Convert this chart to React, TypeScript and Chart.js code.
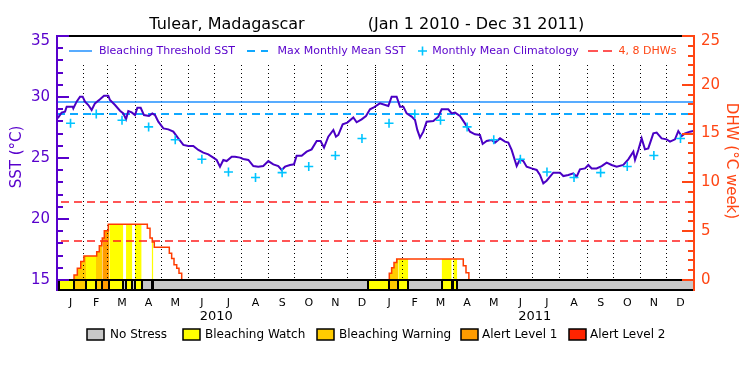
import { useEffect, useRef } from 'react';
import { Chart, registerables } from 'chart.js';

Chart.register(...registerables);

// ---------------- data ----------------
const titleLocation = 'Tulear, Madagascar';
const titlePeriod = '(Jan 1 2010 - Dec 31 2011)';
const monthLabels = ['J', 'F', 'M', 'A', 'M', 'J', 'J', 'A', 'S', 'O', 'N', 'D'];
const monthStarts = [0, 31, 59, 90, 120, 151, 181, 212, 243, 273, 304, 334];
const monthLengths = [31, 28, 31, 30, 31, 30, 31, 31, 30, 31, 30, 31];
const yearLabels = ['2010', '2011'];
const daysPerYear = 365;

const climatology = [27.85, 28.6, 28.1, 27.55, 26.5, 24.9, 23.85, 23.4, 23.8, 24.3, 25.2, 26.6];
const maxMonthlyMean = 28.6;
const bleachingThreshold = 29.6;
const dhwThresholds = [4, 8];

const sstTickLabels = [15, 20, 25, 30, 35];
const dhwTickLabels = [0, 5, 10, 15, 20, 25];
const sstAxisMin = 14.1;
const sstAxisMax = 35;
const dhwAxisMin = -1.13;
const dhwAxisMax = 25;

const sstDays = [0, 1.5, 5.3, 9.2, 11.1, 18, 18.7, 22.5, 26.4, 29.4, 32.1, 35.9, 39.7, 43.5, 49.3, 53.9, 58.8, 60.7, 66.5, 72.2, 76, 79.1, 81.7, 85.6, 89.4, 92.1, 95.9, 99.7, 105.4, 109.2, 112.3, 116.1, 121.9, 127.6, 133.3, 139, 144.8, 150.5, 156.2, 162, 167.7, 173.4, 179.1, 183, 186.8, 190.6, 194.4, 200.2, 204, 209.7, 213.5, 219.3, 225, 230.7, 236.4, 242.2, 247.9, 253.6, 257.5, 261.3, 267, 271.6, 274.6, 280.4, 286.1, 291.8, 297.6, 302.1, 306, 310.9, 316.7, 319.7, 322.4, 327.4, 332.7, 339.6, 343.4, 349.1, 354.1, 358.7, 362.5, 368.2, 370.1, 379.7, 383.5, 389.2, 393.1, 396.9, 400.7, 406.4, 410.3, 412.9, 416, 419.8, 423.6, 431.3, 437, 440.8, 448.4, 452.3, 456.1, 461.8, 467.5, 473.3, 479, 484.7, 487.8, 492.4, 498.1, 501.9, 507.7, 513.4, 517.2, 521, 526.8, 530.6, 534.4, 538.2, 543.9, 549.7, 553.5, 557.3, 561.1, 565, 568.8, 576.4, 580.2, 586, 591.7, 595.5, 599.3, 605.1, 608.9, 612.7, 618.4, 624.2, 629.9, 635.6, 641.4, 649, 654.7, 660.5, 662.4, 666.2, 670, 673.8, 677.6, 683.4, 687.2, 692.9, 698.6, 702.5, 708.2, 712, 715.8, 719.7, 725.4, 729.2];
const sstValues = [28.39, 28.33, 28.72, 28.8, 29.21, 29.21, 29.07, 29.62, 30.03, 30.03, 29.62, 29.34, 28.93, 29.48, 29.81, 30.11, 30.11, 29.75, 29.34, 28.88, 28.66, 28.17, 28.85, 28.74, 28.52, 29.12, 29.12, 28.52, 28.44, 28.66, 28.52, 27.98, 27.43, 27.35, 27.16, 26.61, 26.07, 25.98, 25.98, 25.66, 25.44, 25.3, 25.03, 24.84, 24.29, 24.84, 24.75, 25.11, 25.11, 25.03, 24.92, 24.84, 24.34, 24.29, 24.34, 24.75, 24.48, 24.34, 24.02, 24.29, 24.43, 24.48, 25.19, 25.19, 25.52, 25.71, 26.39, 26.39, 25.85, 26.75, 27.3, 26.75, 26.89, 27.76, 27.9, 28.33, 27.93, 28.17, 28.44, 28.99, 29.12, 29.4, 29.48, 29.26, 30.03, 30.03, 29.21, 29.21, 28.66, 28.39, 28.11, 27.3, 26.67, 27.16, 27.98, 28.03, 28.39, 28.99, 28.99, 28.66, 28.72, 28.44, 27.84, 27.16, 26.94, 26.89, 26.15, 26.39, 26.48, 26.26, 26.61, 26.34, 26.26, 25.66, 24.34, 24.89, 24.75, 24.29, 24.15, 24.02, 23.61, 22.92, 23.14, 23.47, 23.8, 23.8, 23.52, 23.61, 23.74, 23.47, 24.07, 24.15, 24.43, 24.15, 24.15, 24.34, 24.62, 24.43, 24.29, 24.43, 24.89, 25.52, 24.84, 25.66, 26.61, 25.71, 25.79, 27.02, 27.08, 26.61, 26.53, 26.34, 26.53, 27.21, 26.8, 27.02, 27.16, 27.21];

const dhwDays = [19.5, 19.5, 23.3, 27.2, 30.9, 45.5, 48.5, 51.2, 51.9, 54.2, 58.8, 103.5, 106.6, 109.2, 111.5, 128.7, 131.4, 134.1, 137.2, 139.8, 142.9, 143.5, 380.7, 380.8, 383.5, 386.2, 389.3, 465.6, 468.7, 472];
const dhwValues: (number | null)[] = [0, 0.5, 1.2, 1.9, 2.45, 2.9, 3.5, 3.95, 4.3, 5.05, 5.7, 5.3, 4.3, 3.9, 3.35, 2.75, 2.2, 1.55, 1.2, 0.7, 0, null, 0, 0.7, 1.25, 1.8, 2.15, 1.45, 0.75, 0];

const stressStarts = [0, 2.6, 19.5, 33.2, 44.7, 51.9, 60, 76, 79.1, 86.3, 89.4, 97, 108.5, 110.4, 356.7, 380.8, 391.1, 402.6, 440.8, 452.3, 454.1, 458.7];
const stressLevels = [0, 1, 2, 1, 2, 3, 1, 0, 1, 0, 1, 0, 1, 0, 1, 2, 1, 0, 1, 0, 1, 0];
const stressNames = ['No Stress', 'Bleaching Watch', 'Bleaching Warning', 'Alert Level 1', 'Alert Level 2'];
const stressColors = ['#c8c8c8', '#ffff00', '#ffcc00', '#ff9c00', '#ff2400'];

const topLegendTexts = ['Bleaching Threshold SST', 'Max Monthly Mean SST', 'Monthly Mean Climatology', '4, 8 DHWs'];

// ---------------- styles ----------------
const FONT = '"DejaVu Sans", sans-serif';
const AXIS_PURPLE = '#5800cc';
const SST_COLOR = '#4a00c4';
const ORANGE = '#ff4614';
const DHW_LINE = '#ff3c00';
const THRESH_BLUE = '#2090ff';
const MMM_BLUE = '#10a8ff';
const CLIM_CYAN = '#00c4ff';
const DHW_RED = '#ff1e1e';

const totalDays = daysPerYear * yearLabels.length;

function dhwAt(day: number): number {
  let v = 0;
  for (let i = 0; i < dhwDays.length; i++) {
    if (dhwDays[i] <= day) v = dhwValues[i] === null ? 0 : (dhwValues[i] as number);
    else break;
  }
  return v;
}

function buildDatasets() {
  const sstData = sstDays.map((d, i) => ({ x: d, y: sstValues[i] }));
  const climData: { x: number; y: number }[] = [];
  yearLabels.forEach((_, yi) => {
    climatology.forEach((v, m) => {
      climData.push({ x: yi * daysPerYear + monthStarts[m] + monthLengths[m] / 2, y: v });
    });
  });
  const dhwData = dhwDays.map((d, i) => ({ x: d, y: dhwValues[i] }));
  const ds: any[] = [
    { label: 'clim', data: climData, yAxisID: 'ySst', showLine: false, pointStyle: 'cross', pointRadius: 4.5, pointBorderColor: CLIM_CYAN, pointBorderWidth: 1.6, borderColor: CLIM_CYAN },
    { label: 'sst', data: sstData, yAxisID: 'ySst', borderColor: SST_COLOR, borderWidth: 2, pointRadius: 0, tension: 0 },
    { label: 'dhw', data: dhwData, yAxisID: 'yDhw', borderColor: DHW_LINE, borderWidth: 1.5, pointRadius: 0, stepped: true, spanGaps: false },
    { label: 'threshold', data: [{ x: 0, y: bleachingThreshold }, { x: totalDays, y: bleachingThreshold }], yAxisID: 'ySst', borderColor: THRESH_BLUE, borderWidth: 1.5, pointRadius: 0 },
    { label: 'mmm', data: [{ x: 0, y: maxMonthlyMean }, { x: totalDays, y: maxMonthlyMean }], yAxisID: 'ySst', borderColor: MMM_BLUE, borderWidth: 2, borderDash: [8, 5], pointRadius: 0 },
  ];
  dhwThresholds.forEach((t) => {
    ds.push({ label: 'dhw' + t, data: [{ x: 0, y: t }, { x: totalDays, y: t }], yAxisID: 'yDhw', borderColor: DHW_RED, borderWidth: 1.5, borderDash: [8, 5], borderDashOffset: -4, pointRadius: 0 });
  });
  const firstFill = ds.length;
  stressStarts.forEach((s, i) => {
    const lvl = stressLevels[i];
    if (lvl === 0) return;
    const e = i + 1 < stressStarts.length ? stressStarts[i + 1] : totalDays;
    const pts: { x: number; y: number }[] = [{ x: s, y: dhwAt(s) }];
    dhwDays.forEach((d, k) => {
      if (d > s && d < e && dhwValues[k] !== null) pts.push({ x: d, y: dhwValues[k] as number });
    });
    pts.push({ x: e, y: dhwAt(e - 1e-6) });
    ds.push({ label: 'fill' + i, data: pts, yAxisID: 'yDhw', stepped: true, fill: 'origin', backgroundColor: stressColors[lvl], borderColor: 'rgba(0,0,0,0)', borderWidth: 0, pointRadius: 0 });
  });
  return { ds, firstFill };
}

export default function App() {
  const ref = useRef<HTMLCanvasElement>(null);
  useEffect(() => {
    document.body.style.margin = '0';
    const { ds, firstFill } = buildDatasets();

    const decor = {
      id: 'decor',
      afterDatasetDraw(chart: any, args: any) {
        if (args.index !== firstFill) return;
        const ctx = chart.ctx;
        const xs = chart.scales.x;
        const yD = chart.scales.yDhw;
        const y1 = Math.round(yD.getPixelForValue(0)) - 2;
        ctx.save();
        ctx.fillStyle = '#000';
        yearLabels.forEach((_, yi) => {
          monthStarts.forEach((ms, m) => {
            if (yi === 0 && m === 0) return;
            const px = Math.round(xs.getPixelForValue(yi * daysPerYear + ms)) - 1;
            const step = m === 0 ? 2 : 4;
            for (let yy = 65; yy < y1; yy += step) ctx.fillRect(px, yy, 1, 1);
          });
        });
        ctx.restore();
      },
      afterDatasetsDraw(chart: any) {
        const ctx = chart.ctx;
        const xs = chart.scales.x;
        const yS = chart.scales.ySst;
        const yD = chart.scales.yDhw;
        const { left, right, top, bottom } = chart.chartArea;
        ctx.save();

        // status bar
        const yTop = Math.round(yD.getPixelForValue(0));
        const yBot = Math.round(bottom) - 1;
        stressStarts.forEach((s, i) => {
          const e = i + 1 < stressStarts.length ? stressStarts[i + 1] : totalDays;
          const xa = Math.round(xs.getPixelForValue(s));
          const xb = Math.round(xs.getPixelForValue(e));
          ctx.fillStyle = stressColors[stressLevels[i]];
          ctx.fillRect(xa, yTop, xb - xa, yBot - yTop);
        });
        ctx.strokeStyle = '#000';
        ctx.lineWidth = 2;
        stressStarts.forEach((s, i) => {
          const e = i + 1 < stressStarts.length ? stressStarts[i + 1] : totalDays;
          const xa = Math.round(xs.getPixelForValue(s));
          const xb = Math.round(xs.getPixelForValue(e));
          ctx.strokeRect(xa, yTop, xb - xa, yBot - yTop);
        });

        // frame
        ctx.lineWidth = 2;
        ctx.strokeStyle = '#000';
        ctx.beginPath();
        ctx.moveTo(left, top);
        ctx.lineTo(right, top);
        ctx.stroke();
        ctx.strokeStyle = AXIS_PURPLE;
        ctx.beginPath();
        ctx.moveTo(left, top - 1);
        ctx.lineTo(left, bottom);
        ctx.stroke();
        ctx.strokeStyle = ORANGE;
        ctx.beginPath();
        ctx.moveTo(right, top - 1);
        ctx.lineTo(right, bottom);
        ctx.stroke();

        // left ticks
        ctx.strokeStyle = AXIS_PURPLE;
        ctx.beginPath();
        for (let v = sstTickLabels[0]; v <= sstTickLabels[sstTickLabels.length - 1]; v++) {
          const py = Math.round(yS.getPixelForValue(v));
          const len = sstTickLabels.includes(v) ? 12 : 6;
          ctx.moveTo(left, py);
          ctx.lineTo(left + len, py);
        }
        ctx.stroke();
        ctx.fillStyle = AXIS_PURPLE;
        ctx.font = `15px ${FONT}`;
        ctx.textAlign = 'right';
        ctx.textBaseline = 'middle';
        sstTickLabels.forEach((v) => {
          const py = yS.getPixelForValue(v);
          ctx.fillText(String(v), left - 7, Math.max(py, top + 5));
        });

        // right ticks
        ctx.strokeStyle = ORANGE;
        ctx.beginPath();
        for (let v = dhwTickLabels[0]; v <= dhwTickLabels[dhwTickLabels.length - 1]; v++) {
          const py = Math.round(yD.getPixelForValue(v));
          const len = dhwTickLabels.includes(v) ? 12 : 6;
          ctx.moveTo(right, py);
          ctx.lineTo(right - len, py);
        }
        ctx.stroke();
        ctx.fillStyle = ORANGE;
        ctx.textAlign = 'left';
        dhwTickLabels.forEach((v) => {
          const py = yD.getPixelForValue(v);
          ctx.fillText(String(v), right + 7, Math.max(py, top + 5));
        });

        // axis titles
        ctx.font = `15px ${FONT}`;
        ctx.textAlign = 'center';
        ctx.textBaseline = 'middle';
        ctx.save();
        ctx.translate(17, 157);
        ctx.rotate(-Math.PI / 2);
        ctx.fillStyle = AXIS_PURPLE;
        ctx.fillText('SST (°C)', 0, 0);
        ctx.restore();
        ctx.save();
        ctx.translate(731, 161);
        ctx.rotate(Math.PI / 2);
        ctx.fillStyle = ORANGE;
        ctx.fillText('DHW (°C week)', 0, 0);
        ctx.restore();

        // month / year labels
        ctx.fillStyle = '#000';
        ctx.textBaseline = 'alphabetic';
        ctx.font = `11px ${FONT}`;
        yearLabels.forEach((_, yi) => {
          monthLabels.forEach((lab, m) => {
            const px = xs.getPixelForValue(yi * daysPerYear + monthStarts[m] + monthLengths[m] / 2);
            ctx.fillText(lab, px, 306);
          });
        });
        ctx.font = `13px ${FONT}`;
        yearLabels.forEach((lab, yi) => {
          ctx.fillText(lab, xs.getPixelForValue(yi * daysPerYear + daysPerYear / 2), 320);
        });

        // title
        ctx.font = `16px ${FONT}`;
        ctx.fillText(titleLocation, 227, 29);
        ctx.fillText(titlePeriod, 476, 29);

        // top legend
        const ly = 51;
        ctx.lineWidth = 1.5;
        ctx.strokeStyle = THRESH_BLUE;
        ctx.setLineDash([]);
        ctx.beginPath();
        ctx.moveTo(69, ly);
        ctx.lineTo(92, ly);
        ctx.stroke();
        ctx.lineWidth = 2;
        ctx.strokeStyle = MMM_BLUE;
        ctx.beginPath();
        ctx.moveTo(247, ly);
        ctx.lineTo(255, ly);
        ctx.moveTo(261, ly);
        ctx.lineTo(268, ly);
        ctx.stroke();
        ctx.strokeStyle = CLIM_CYAN;
        ctx.lineWidth = 1.6;
        ctx.beginPath();
        ctx.moveTo(418, ly);
        ctx.lineTo(427, ly);
        ctx.moveTo(422.5, ly - 4.5);
        ctx.lineTo(422.5, ly + 4.5);
        ctx.stroke();
        ctx.strokeStyle = DHW_RED;
        ctx.lineWidth = 1.5;
        ctx.beginPath();
        ctx.moveTo(588, ly);
        ctx.lineTo(598, ly);
        ctx.moveTo(603, ly);
        ctx.lineTo(612, ly);
        ctx.stroke();
        ctx.font = `11px ${FONT}`;
        ctx.textAlign = 'center';
        ctx.textBaseline = 'middle';
        const centers = [167, 341.5, 505.5, 647.5];
        topLegendTexts.forEach((t, i) => {
          ctx.fillStyle = i === 3 ? ORANGE : AXIS_PURPLE;
          ctx.fillText(t, centers[i], ly);
        });

        // bottom legend
        const boxX = [87, 183, 317, 461, 569];
        const textX = [110, 205, 339, 482, 590];
        ctx.font = `12px ${FONT}`;
        ctx.textAlign = 'left';
        ctx.textBaseline = 'middle';
        ctx.lineWidth = 1.5;
        stressNames.forEach((n, i) => {
          ctx.fillStyle = stressColors[i];
          ctx.fillRect(boxX[i], 329, 17, 11);
          ctx.strokeStyle = '#000';
          ctx.strokeRect(boxX[i], 329, 17, 11);
          ctx.fillStyle = '#000';
          ctx.fillText(n, textX[i], 335);
        });

        ctx.restore();
      },
    };

    const chart = new Chart(ref.current as HTMLCanvasElement, {
      type: 'line',
      data: { datasets: ds },
      options: {
        animation: false,
        responsive: false,
        devicePixelRatio: 1,
        events: [],
        layout: { padding: { left: 57, right: 56, top: 36, bottom: 84 } },
        plugins: { legend: { display: false }, tooltip: { enabled: false }, title: { display: false } },
        scales: {
          x: { type: 'linear', min: 0, max: totalDays, display: false },
          ySst: { type: 'linear', position: 'left', min: sstAxisMin, max: sstAxisMax, display: false },
          yDhw: { type: 'linear', position: 'right', min: dhwAxisMin, max: dhwAxisMax, display: false },
        },
      } as any,
      plugins: [decor as any],
    });
    return () => chart.destroy();
  }, []);
  return (
    <div style={{ width: 750, height: 375, background: '#fff' }}>
      <canvas ref={ref} width={750} height={375} style={{ display: 'block' }} />
    </div>
  );
}
